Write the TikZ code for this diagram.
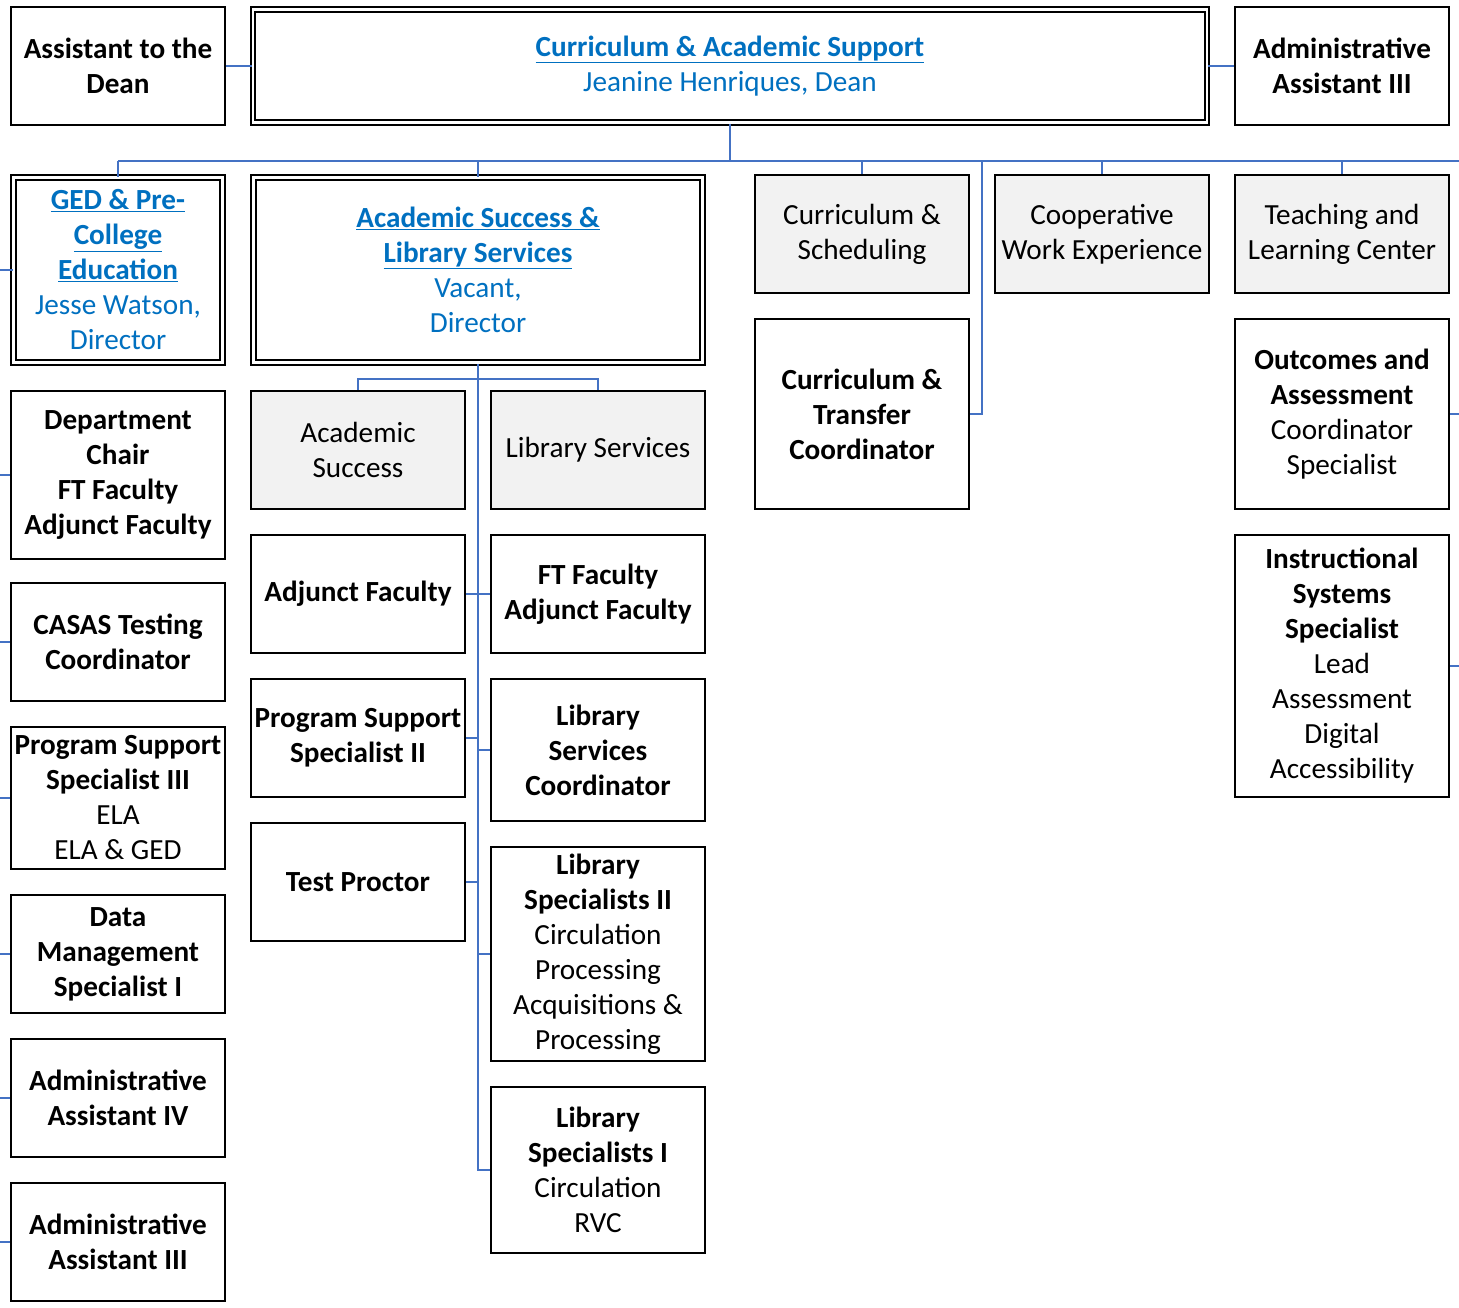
\documentclass[tikz,border=0pt]{standalone}
\usepackage{fontspec}
\setmainfont{Carlito}
\definecolor{linkblue}{HTML}{4472C4}
\definecolor{hblue}{HTML}{0070C0}
\definecolor{gfill}{HTML}{F2F2F2}
\newcommand{\hd}[1]{{\color{hblue}\textbf{\underline{#1}}}}
\newcommand{\bl}[1]{{\color{hblue}#1}}
\tikzset{
  box/.style={draw=black, line width=2.3pt, fill=white, minimum width=214pt,
    align=center, inner sep=0pt, text=black,
    font=\fontsize{29.2}{35}\selectfont},
  gbox/.style={box, fill=gfill},
  dbox/.style={box, line width=2pt, double=white, double distance=2.5pt},
  link/.style={draw=linkblue, line width=1.8pt},
}
\begin{document}
\begin{tikzpicture}[x=1pt,y=-1pt]
\useasboundingbox (0,0) rectangle (1459,1307);
\coordinate (leftedge) at (0,0);
\coordinate (rightedge) at (1459,0);
\coordinate (bus) at (730,161);
\coordinate (busL) at (118,161);
\coordinate (busR) at (1459,161);
\coordinate (jog) at (982,161);
\coordinate (asbus) at (478,379);

% top row
\node[box, minimum height=118pt] (asst) at (118,66) {\textbf{Assistant to the}\\\textbf{Dean}};
\node[dbox, minimum width=954pt, minimum height=113pt] (dean) at (730,66)
  {\hd{Curriculum \& Academic Support}\\\bl{Jeanine Henriques, Dean}};
\node[box, minimum height=118pt] (aa3top) at (1342,66) {\textbf{Administrative}\\\textbf{Assistant III}};

% column 1
\node[dbox, minimum width=209pt, minimum height=185pt] (ged) at (118,270)
  {\hd{GED \& Pre-}\\\hd{College}\\\hd{Education}\\\bl{Jesse Watson,}\\\bl{Director}};
\node[box, minimum height=168pt] (dept) at (118,475)
  {\textbf{Department}\\\textbf{Chair}\\\textbf{FT Faculty}\\\textbf{Adjunct Faculty}};
\node[box, minimum height=118pt] (casas) at (118,642) {\textbf{CASAS Testing}\\\textbf{Coordinator}};
\node[box, minimum height=142pt] (pss3) at (118,798)
  {\textbf{Program Support}\\\textbf{Specialist III}\\ELA\\ELA \& GED};
\node[box, minimum height=118pt] (data) at (118,954)
  {\textbf{Data}\\\textbf{Management}\\\textbf{Specialist I}};
\node[box, minimum height=118pt] (aa4) at (118,1098) {\textbf{Administrative}\\\textbf{Assistant IV}};
\node[box, minimum height=118pt] (aa3) at (118,1242) {\textbf{Administrative}\\\textbf{Assistant III}};

% academic success & library services
\node[dbox, minimum width=449pt, minimum height=185pt] (asls) at (478,270)
  {\hd{Academic Success \&}\\\hd{Library Services}\\\bl{Vacant,}\\\bl{Director}};
\node[gbox, minimum height=118pt] (acs) at (358,450) {Academic\\Success};
\node[box, minimum height=118pt] (adj) at (358,594) {\textbf{Adjunct Faculty}};
\node[box, minimum height=118pt] (pss2) at (358,738) {\textbf{Program Support}\\\textbf{Specialist II}};
\node[box, minimum height=118pt] (tp) at (358,882) {\textbf{Test Proctor}};

\node[gbox, minimum height=118pt] (lib) at (598,450) {Library Services};
\node[box, minimum height=118pt] (ft) at (598,594) {\textbf{FT Faculty}\\\textbf{Adjunct Faculty}};
\node[box, minimum height=142pt] (lsc) at (598,750)
  {\textbf{Library}\\\textbf{Services}\\\textbf{Coordinator}};
\node[box, minimum height=214pt] (ls2) at (598,954)
  {\textbf{Library}\\\textbf{Specialists II}\\Circulation\\Processing\\Acquisitions \&\\Processing};
\node[box, minimum height=166pt] (ls1) at (598,1170)
  {\textbf{Library}\\\textbf{Specialists I}\\Circulation\\RVC};

% right part
\node[gbox, minimum height=118pt] (cs) at (862,234) {Curriculum \&\\Scheduling};
\node[box, minimum height=190pt] (ctc) at (862,414)
  {\textbf{Curriculum \&}\\\textbf{Transfer}\\\textbf{Coordinator}};
\node[gbox, minimum height=118pt] (cwe) at (1102,234) {Cooperative\\Work Experience};
\node[gbox, minimum height=118pt] (tlc) at (1342,234) {Teaching and\\Learning Center};
\node[box, minimum height=190pt] (oa) at (1342,414)
  {\textbf{Outcomes and}\\\textbf{Assessment}\\Coordinator\\Specialist};
\node[box, minimum height=262pt] (iss) at (1342,666)
  {\textbf{Instructional}\\\textbf{Systems}\\\textbf{Specialist}\\Lead\\Assessment\\Digital\\Accessibility};

% connectors
\draw[link] (asst.east) -- (dean.west);
\draw[link] (dean.east) -- (aa3top.west);
\draw[link] (dean.south) -- (bus);
\draw[link] (busL) -- (busR);
\draw[link] (ged.north |- bus) -- (ged.north);
\draw[link] (asls.north |- bus) -- (asls.north);
\draw[link] (cs.north |- bus) -- (cs.north);
\draw[link] (cwe.north |- bus) -- (cwe.north);
\draw[link] (tlc.north |- bus) -- (tlc.north);
\draw[link] (jog) |- (ctc.east);

\foreach \n in {ged,dept,casas,pss3,data,aa4,aa3}
  \draw[link] (\n.west -| leftedge) -- (\n.west);
\foreach \n in {oa,iss}
  \draw[link] (\n.east) -- (\n.east -| rightedge);

\draw[link] (asls.south) -- (asls.south |- ls1.west) -- (ls1.west);
\draw[link] (acs.north) -- (acs.north |- asbus) -- (lib.north |- asbus) -- (lib.north);
\foreach \n in {adj,pss2,tp}
  \draw[link] (\n.east) -- (\n.east -| asls.south);
\foreach \n in {ft,lsc,ls2}
  \draw[link] (\n.west -| asls.south) -- (\n.west);
\end{tikzpicture}
\end{document}
